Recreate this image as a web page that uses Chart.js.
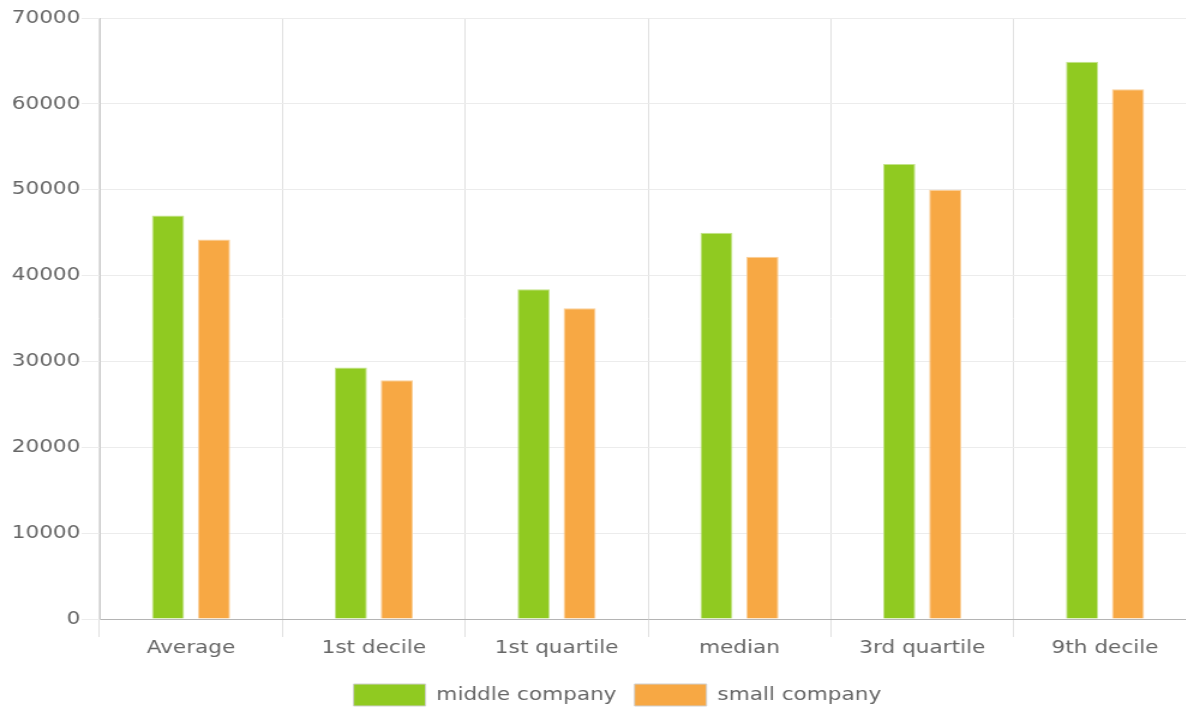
<!DOCTYPE html>
<html lang="en">
<head>
    <meta charset="UTF-8">
    <title>Salary by company size</title>
    <script src="https://cdn.jsdelivr.net/npm/chart.js@4/dist/chart.umd.min.js"></script>
    <style>
        html, body { margin: 0; padding: 0; background: #fff; overflow: hidden; }
        #frame { width: 1186px; height: 712px; overflow: hidden; }
        /* the original chart is drawn a bit narrow and then stretched sideways */
        #bars { display: block; transform: scaleX(1.2); transform-origin: 0 0; }
    </style>
</head>
<body>
    <div id="frame"><canvas id="bars" width="997" height="712"></canvas></div>

    <script>
        const categories = ['Average', '1st decile', '1st quartile', 'median', '3rd quartile', '9th decile'];
        const middleCompany = [47000, 29300, 38400, 45000, 53000, 64900];
        const smallCompany = [44200, 27800, 36200, 42200, 50000, 61700];

        const textColor = '#666';
        Chart.defaults.font.family = 'DejaVu Sans';
        Chart.defaults.font.size = 18;
        Chart.defaults.color = textColor;

        const ctx = document.getElementById('bars').getContext('2d');

        // nudge the legend a little right and down, like the original
        const legendShift = {
            id: 'legendShift',
            afterLayout: function (chart) {
                const lg = chart.legend;
                lg.left += 16; lg.right += 16;
                lg.top += 4; lg.bottom += 4;
            }
        };

        new Chart(ctx, {
            type: 'bar',
            data: {
                labels: categories,
                datasets: [
                    {
                        label: 'middle company',
                        data: middleCompany,
                        backgroundColor: '#90ca21',
                        borderColor: '#c3e38a',
                        borderWidth: 1,
                        barPercentage: 0.7,
                        categoryPercentage: 0.503
                    },
                    {
                        label: 'small company',
                        data: smallCompany,
                        backgroundColor: '#f7a844',
                        borderColor: '#fad09b',
                        borderWidth: 1,
                        barPercentage: 0.7,
                        categoryPercentage: 0.503
                    }
                ]
            },
            options: {
                responsive: false,
                animation: false,
                layout: { padding: { top: 18, right: 0, bottom: 0, left: 0 } },
                scales: {
                    x: {
                        grid: { color: '#e0e0e0', tickLength: 18, offset: true },
                        border: { color: '#b4b4b4' },
                        ticks: { padding: 1 },
                        afterFit: function (scale) { scale.height = 46; }
                    },
                    y: {
                        min: 0,
                        max: 70000,
                        ticks: {
                            stepSize: 10000,
                            padding: 1,
                            callback: function (v) { return String(v); }
                        },
                        grid: { color: '#ececec', tickLength: 15 },
                        border: { color: '#cccccc' },
                        afterFit: function (scale) { scale.width = 83; }
                    }
                },
                plugins: {
                    legend: {
                        position: 'bottom',
                        labels: {
                            boxWidth: 60,
                            boxHeight: 22,
                            padding: 15,
                            generateLabels: function (chart) {
                                return chart.data.datasets.map((ds, i) => ({
                                    text: ds.label,
                                    fillStyle: ds.backgroundColor,
                                    strokeStyle: '#cfcfcf',
                                    lineWidth: 1,
                                    fontColor: textColor,
                                    hidden: !chart.isDatasetVisible(i),
                                    datasetIndex: i
                                }));
                            }
                        }
                    },
                    tooltip: { enabled: false }
                }
            },
            plugins: [legendShift]
        });
    </script>
</body>
</html>
